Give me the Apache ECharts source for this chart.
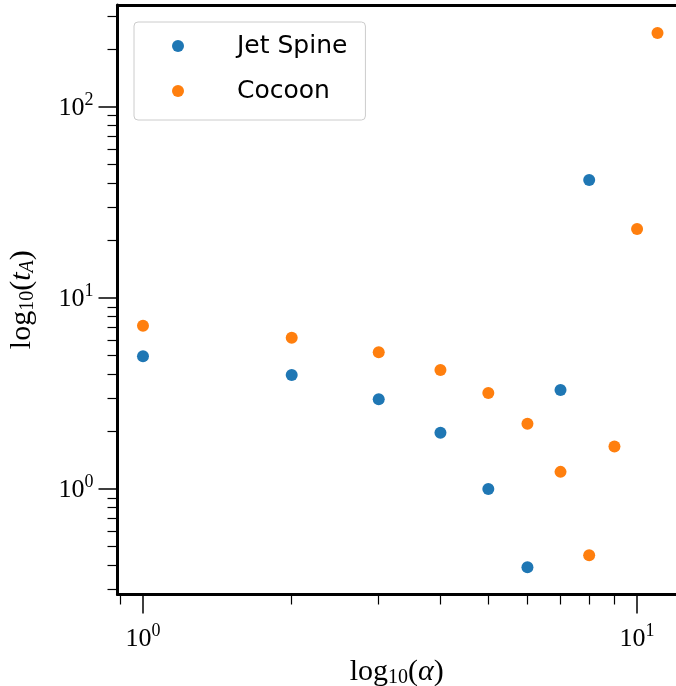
<!DOCTYPE html>
<html>
<head>
<meta charset="utf-8">
<script src="https://cdn.jsdelivr.net/npm/echarts@6/dist/echarts.min.js"></script>
<style>
  html, body { margin: 0; padding: 0; background: #fff; }
  #chart { width: 676px; height: 686px; }
</style>
</head>
<body>
<div id="chart"></div>
<script>
// alpha values and t_A
const alphaJet = [1, 2, 3, 4, 5, 6, 7, 8];
const tJet = [4.95, 3.95, 2.95, 1.97, 1.0, 0.39, 3.3, 41.5];
const alphaCocoon = [1, 2, 3, 4, 5, 6, 7, 8, 9, 10, 11];
const tCocoon = [7.15, 6.2, 5.2, 4.2, 3.18, 2.2, 1.23, 0.45, 1.67, 23, 244];

const xMajor = [1, 10];
const xMinor = [0.9, 2, 3, 4, 5, 6, 7, 8, 9];
const yMajor = [1, 10, 100];
const yMinor = [0.3, 0.4, 0.5, 0.6, 0.7, 0.8, 0.9, 2, 3, 4, 5, 6, 7, 8, 9,
                20, 30, 40, 50, 60, 70, 80, 90, 200, 300];

const serif = '"Liberation Serif", "DejaVu Serif", serif';
const sans = '"DejaVu Sans", sans-serif';

function pairs(xs, ys) {
  let out = [];
  for (let i = 0; i < xs.length; i++) out.push([xs[i], ys[i]]);
  return out;
}

function powLabel(v) {
  let e = Math.round(Math.log10(v));
  return '{b|10}{s|' + e + '}';
}

const tickRich = {
  b: { fontFamily: serif, fontSize: 26, color: '#000', lineHeight: 28, verticalAlign: 'bottom' },
  s: { fontFamily: serif, fontSize: 18, color: '#000', lineHeight: 20, verticalAlign: 'bottom', padding: [0, 0, 12, 0] }
};
const nameRich = {
  a: { fontFamily: serif, fontSize: 30, color: '#000', lineHeight: 36, verticalAlign: 'bottom' },
  i: { fontFamily: serif, fontSize: 30, fontStyle: 'italic', color: '#000', lineHeight: 36, verticalAlign: 'bottom' },
  d: { fontFamily: serif, fontSize: 20, color: '#000', lineHeight: 22, verticalAlign: 'bottom' },
  di: { fontFamily: serif, fontSize: 20, fontStyle: 'italic', color: '#000', lineHeight: 22, verticalAlign: 'bottom' }
};

const xMin = 0.888, xMax = 11.99, yMin = 0.2805, yMax = 342;
const gridPos = { left: 117.5, top: 5, right: 0, bottom: 91.5 };

var chart = echarts.init(document.getElementById('chart'));

var option = {
  animation: false,
  backgroundColor: '#fff',
  grid: [
    Object.assign({ show: false, containLabel: false, outerBoundsMode: 'none' }, gridPos),
    Object.assign({ show: false, containLabel: false, outerBoundsMode: 'none' }, gridPos)
  ],
  legend: {
    left: 134, top: 22,
    orient: 'vertical',
    data: ['Jet Spine', 'Cocoon'],
    icon: 'circle',
    itemWidth: 40, itemHeight: 12,
    itemGap: 15,
    padding: [9, 18, 14, 38],
    borderColor: '#cccccc', borderWidth: 1, borderRadius: 4,
    backgroundColor: 'rgba(255,255,255,0.8)',
    textStyle: { fontFamily: sans, fontSize: 25, color: '#000', lineHeight: 30, padding: [0, 0, 0, 34] }
  },
  xAxis: [
    {
      type: 'log', gridIndex: 0, position: 'bottom', min: xMin, max: xMax, logBase: 10,
      name: '{a|log}{d|10}{a|(}{i|α}{a|)}',
      nameLocation: 'middle', nameGap: 52,
      nameTextStyle: { rich: nameRich },
      axisLine: { show: true, lineStyle: { color: '#000', width: 3 } },
      axisTick: { show: true, length: 19, lineStyle: { color: '#000', width: 1.5 }, customValues: xMajor },
      axisLabel: { margin: 30, customValues: xMajor, formatter: powLabel, rich: tickRich },
      splitLine: { show: false }
    },
    {
      type: 'log', gridIndex: 1, position: 'bottom', min: xMin, max: xMax, logBase: 10,
      axisLine: { show: false },
      axisTick: { show: true, length: 10, lineStyle: { color: '#000', width: 1.2 }, customValues: xMinor },
      axisLabel: { show: false },
      splitLine: { show: false }
    },
    {
      // top spine
      type: 'log', gridIndex: 0, position: 'top', min: xMin, max: xMax, logBase: 10,
      axisLine: { show: true, lineStyle: { color: '#000', width: 3 } },
      axisTick: { show: false },
      axisLabel: { show: false },
      splitLine: { show: false }
    }
  ],
  yAxis: [
    {
      type: 'log', gridIndex: 0, min: yMin, max: yMax, logBase: 10,
      name: '{a|log}{d|10}{a|(}{i|t}{di|A}{a|)}',
      nameLocation: 'middle', nameGap: 80, nameRotate: 90,
      nameTextStyle: { rich: nameRich },
      axisLine: { show: true, lineStyle: { color: '#000', width: 3 } },
      axisTick: { show: true, length: 19, lineStyle: { color: '#000', width: 1.5 }, customValues: yMajor },
      axisLabel: { margin: 24, customValues: yMajor, formatter: powLabel, rich: tickRich },
      splitLine: { show: false }
    },
    {
      type: 'log', gridIndex: 1, min: yMin, max: yMax, logBase: 10,
      axisLine: { show: false },
      axisTick: { show: true, length: 10, lineStyle: { color: '#000', width: 1.2 }, customValues: yMinor },
      axisLabel: { show: false },
      splitLine: { show: false }
    }
  ],
  series: [
    {
      name: 'Jet Spine', type: 'scatter', xAxisIndex: 0, yAxisIndex: 0,
      symbolSize: 12, itemStyle: { color: '#1f77b4', opacity: 1 },
      data: pairs(alphaJet, tJet)
    },
    {
      name: 'Cocoon', type: 'scatter', xAxisIndex: 0, yAxisIndex: 0,
      symbolSize: 12, itemStyle: { color: '#ff7f0e', opacity: 1 },
      data: pairs(alphaCocoon, tCocoon)
    }
  ]
};

chart.setOption(option);
</script>
</body>
</html>
